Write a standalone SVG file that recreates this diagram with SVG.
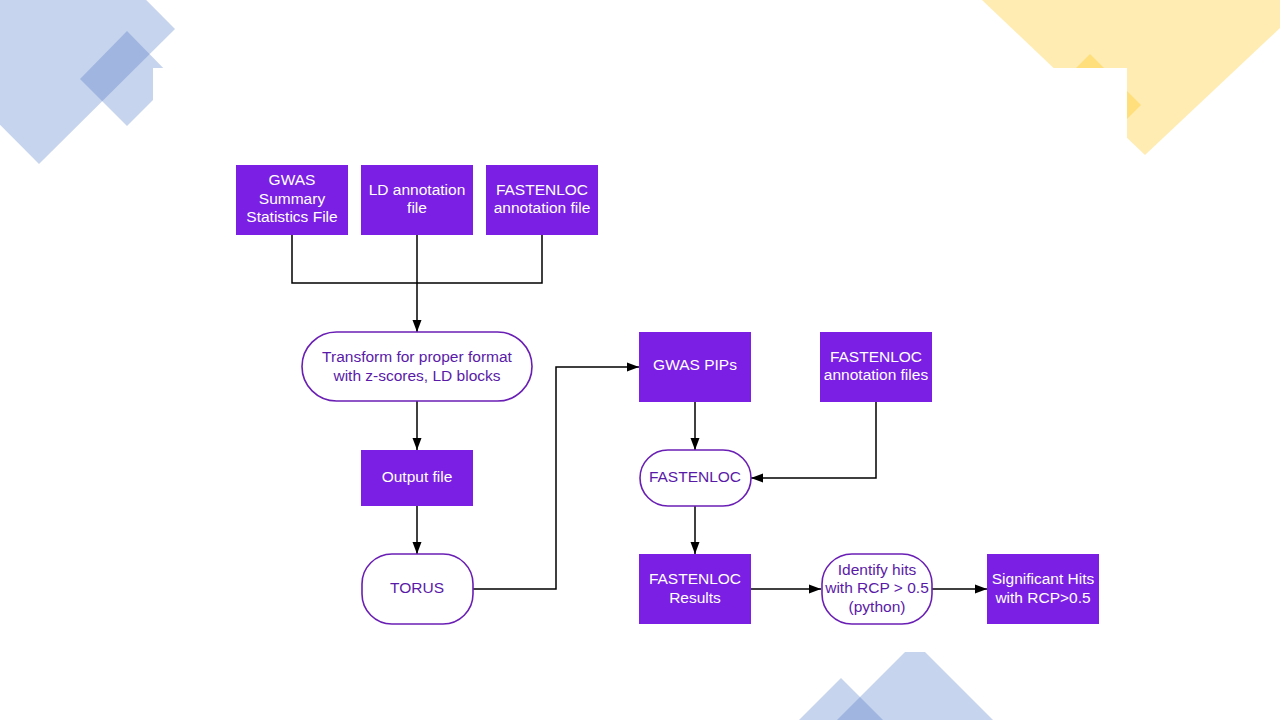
<svg xmlns="http://www.w3.org/2000/svg" width="1280" height="720" viewBox="0 0 1280 720">
  <style>
    .box { fill: #7b1fe4; }
    .term { fill: #ffffff; stroke: #6a1fb4; stroke-width: 1.6; }
    .bt { fill: #ffffff; font-family: "Liberation Sans", Arial, sans-serif; font-size: 15.5px; text-anchor: middle; }
    .tt { fill: #5a1aa8; font-family: "Liberation Sans", Arial, sans-serif; font-size: 15.5px; text-anchor: middle; }
    .edge { fill: none; stroke: #000000; stroke-width: 1.5; }
    .blue { fill: #4472c4; fill-opacity: 0.3; }
    .yellow { fill: #ffc000; fill-opacity: 0.3; }
  </style>
  <defs>
    <marker id="arrow" viewBox="0 0 12 10" refX="12" refY="5" markerWidth="12" markerHeight="10" markerUnits="userSpaceOnUse" orient="auto">
      <path d="M0,0.5 L12,5 L0,9.5 Z" fill="#000000"/>
    </marker>
  </defs>

  <rect width="1280" height="720" fill="#ffffff"/>

  <!-- corner decorations -->
  <g id="decor">
    <polygon class="blue" points="175,29 39,164 -96,28 40,-107"/>
    <polygon class="blue" points="127,31 174,79 127,126 80,79"/>
    <polygon class="yellow" points="982,0 1145,155 1280,28 1280,0"/>
    <polygon class="yellow" points="1090,54 1141,105 1090,156 1039,105"/>
    <polygon class="blue" points="915,642 1000,727 830,727"/>
    <polygon class="blue" points="841,678 884,721 798,721"/>
  </g>

  <!-- content panel -->
  <rect x="153" y="68" width="974" height="584" fill="#ffffff"/>

  <!-- connectors -->
  <g id="connectors">
    <path class="edge" d="M292,235 V283 H542 V235"/>
    <path class="edge" d="M417,235 V332" marker-end="url(#arrow)"/>
    <path class="edge" d="M417,401 V450" marker-end="url(#arrow)"/>
    <path class="edge" d="M417,506 V554" marker-end="url(#arrow)"/>
    <path class="edge" d="M473,589 H556 V367 H639" marker-end="url(#arrow)"/>
    <path class="edge" d="M695,402 V450" marker-end="url(#arrow)"/>
    <path class="edge" d="M876,402 V478 H751" marker-end="url(#arrow)"/>
    <path class="edge" d="M695,506 V554" marker-end="url(#arrow)"/>
    <path class="edge" d="M751,589 H821" marker-end="url(#arrow)"/>
    <path class="edge" d="M932,589 H987" marker-end="url(#arrow)"/>
  </g>

  <g id="gwas-summary">
    <rect class="box" x="236" y="165" width="112" height="70"/>
    <text class="bt" x="292" y="185">GWAS</text>
    <text class="bt" x="292" y="203.5">Summary</text>
    <text class="bt" x="292" y="222">Statistics File</text>
  </g>
  <g id="ld-annotation">
    <rect class="box" x="361" y="165" width="112" height="70"/>
    <text class="bt" x="417" y="194.5">LD annotation</text>
    <text class="bt" x="417" y="213">file</text>
  </g>
  <g id="fastenloc-annotation">
    <rect class="box" x="486" y="165" width="112" height="70"/>
    <text class="bt" x="542" y="194.5">FASTENLOC</text>
    <text class="bt" x="542" y="213">annotation file</text>
  </g>
  <g id="transform">
    <rect class="term" x="302" y="332" width="230" height="69" rx="34.5"/>
    <text class="tt" x="417" y="362">Transform for proper format</text>
    <text class="tt" x="417" y="380.5">with z-scores, LD blocks</text>
  </g>
  <g id="output-file">
    <rect class="box" x="361" y="450" width="112" height="56"/>
    <text class="bt" x="417" y="482">Output file</text>
  </g>
  <g id="torus">
    <rect class="term" x="362" y="554" width="111" height="70" rx="30"/>
    <text class="tt" x="417" y="592.5">TORUS</text>
  </g>
  <g id="gwas-pips">
    <rect class="box" x="639" y="332" width="112" height="70"/>
    <text class="bt" x="695" y="370">GWAS PIPs</text>
  </g>
  <g id="fastenloc-annotation-files">
    <rect class="box" x="820" y="332" width="112" height="70"/>
    <text class="bt" x="876" y="361.5">FASTENLOC</text>
    <text class="bt" x="876" y="380">annotation files</text>
  </g>
  <g id="fastenloc">
    <rect class="term" x="640" y="450" width="111" height="56" rx="28"/>
    <text class="tt" x="695" y="482">FASTENLOC</text>
  </g>
  <g id="fastenloc-results">
    <rect class="box" x="639" y="554" width="112" height="70"/>
    <text class="bt" x="695" y="584">FASTENLOC</text>
    <text class="bt" x="695" y="602.5">Results</text>
  </g>
  <g id="identify-hits">
    <rect class="term" x="822" y="554" width="110" height="70" rx="30"/>
    <text class="tt" x="877" y="574.5">Identify hits</text>
    <text class="tt" x="877" y="593">with RCP &gt; 0.5</text>
    <text class="tt" x="877" y="611.5">(python)</text>
  </g>
  <g id="significant-hits">
    <rect class="box" x="987" y="554" width="112" height="70"/>
    <text class="bt" x="1043" y="584">Significant Hits</text>
    <text class="bt" x="1043" y="602.5">with RCP&gt;0.5</text>
  </g>
</svg>
